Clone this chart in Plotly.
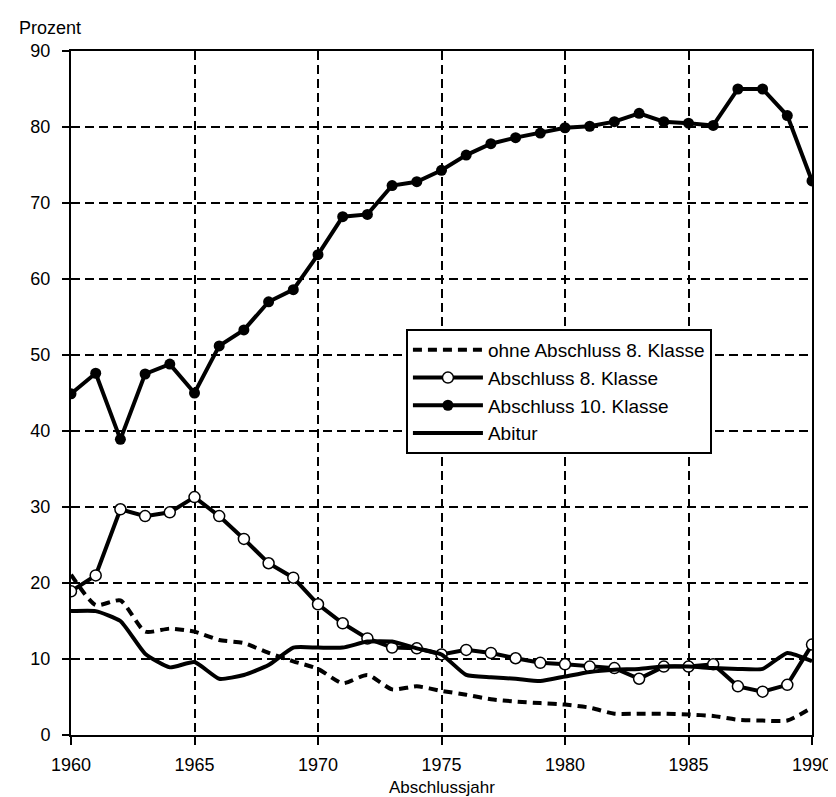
import plotly.graph_objects as go

years = list(range(1960, 1991))

ohne_abschluss = [21.1, 17.1, 17.7, 13.6, 14.0, 13.6, 12.5, 12.1, 10.8, 9.7,
                  8.7, 6.8, 7.9, 6.0, 6.4, 5.8, 5.3, 4.7, 4.4, 4.2,
                  4.0, 3.6, 2.8, 2.8, 2.8, 2.7, 2.5, 2.0, 1.9, 1.9, 3.6]
abschluss_8 = [18.9, 21.0, 29.7, 28.8, 29.3, 31.3, 28.8, 25.8, 22.6, 20.7,
               17.2, 14.7, 12.7, 11.5, 11.4, 10.6, 11.2, 10.8, 10.1, 9.5,
               9.3, 9.0, 8.8, 7.4, 9.0, 9.0, 9.3, 6.4, 5.7, 6.6, 11.9]
abschluss_10 = [44.9, 47.6, 38.9, 47.5, 48.8, 45.0, 51.2, 53.3, 57.0, 58.6,
                63.2, 68.2, 68.5, 72.3, 72.8, 74.3, 76.3, 77.8, 78.6, 79.2,
                79.9, 80.1, 80.7, 81.8, 80.7, 80.5, 80.2, 85.0, 85.0, 81.5, 72.9]
abitur = [16.3, 16.3, 15.0, 10.7, 8.9, 9.6, 7.4, 7.9, 9.2, 11.5,
          11.5, 11.5, 12.3, 12.3, 11.4, 10.6, 7.9, 7.6, 7.4, 7.1,
          7.7, 8.3, 8.6, 8.7, 9.0, 9.0, 8.8, 8.7, 8.7, 10.8, 9.7]

names = ["ohne Abschluss 8. Klasse", "Abschluss 8. Klasse",
         "Abschluss 10. Klasse", "Abitur"]

x_ticks = [1960, 1965, 1970, 1975, 1980, 1985, 1990]
y_ticks = list(range(0, 91, 10))

FONT = "Liberation Sans, Arial, sans-serif"

fig = go.Figure()
fig.add_trace(go.Scatter(
    x=years, y=ohne_abschluss, name=names[0], mode="lines",
    line=dict(color="black", width=4, dash="9px,6px", shape="spline", smoothing=0.6),
))
fig.add_trace(go.Scatter(
    x=years, y=abschluss_8, name=names[1], mode="lines+markers",
    line=dict(color="black", width=4),
    marker=dict(symbol="circle", size=11, color="white",
                line=dict(color="black", width=1.5)),
))
fig.add_trace(go.Scatter(
    x=years, y=abschluss_10, name=names[2], mode="lines+markers",
    line=dict(color="black", width=4),
    marker=dict(symbol="circle", size=11, color="black"),
))
fig.add_trace(go.Scatter(
    x=years, y=abitur, name=names[3], mode="lines",
    line=dict(color="black", width=4, shape="spline", smoothing=0.5),
))

fig.update_layout(
    width=836, height=797,
    margin=dict(l=63, r=23, t=43, b=70),
    paper_bgcolor="white", plot_bgcolor="white",
    font=dict(family=FONT, size=18, color="black"),
    showlegend=True,
    legend=dict(
        x=(402 - 63) / 750, y=(727 - 321) / 684,
        xanchor="left", yanchor="top",
        bgcolor="white", bordercolor="black", borderwidth=2,
        font=dict(family=FONT, size=19, color="black"),
        itemwidth=70, tracegroupgap=0,
    ),
    xaxis=dict(
        range=[1960, 1990], tickvals=x_ticks, ticktext=[str(v) for v in x_ticks],
        showgrid=True, gridcolor="black", gridwidth=2, griddash="9px,5px",
        showline=True, linecolor="black", linewidth=2, mirror=True,
        ticks="outside", ticklen=8, tickwidth=1.5, tickcolor="black",
        ticklabelstandoff=4,
        zeroline=False, fixedrange=True,
        tickfont=dict(family=FONT, size=18, color="black"),
    ),
    yaxis=dict(
        range=[0, 90], tickvals=y_ticks,
        showgrid=True, gridcolor="black", gridwidth=2, griddash="9px,5px",
        showline=True, linecolor="black", linewidth=2, mirror=True,
        ticks="outside", ticklen=7, tickwidth=1.5, tickcolor="black",
        ticklabelstandoff=8,
        zeroline=False, fixedrange=True,
        tickfont=dict(family=FONT, size=18, color="black"),
    ),
    annotations=[
        dict(text="Prozent", xref="paper", yref="paper",
             x=(8 - 63) / 750, y=(727 - 20) / 684, xanchor="left", yanchor="middle",
             showarrow=False, font=dict(family=FONT, size=18, color="black")),
        dict(text="Abschlussjahr", xref="paper", yref="paper",
             x=0.5, y=(727 - 779) / 684, xanchor="center", yanchor="middle",
             showarrow=False, font=dict(family=FONT, size=17, color="black")),
    ],
)

fig.write_html("out.html")
